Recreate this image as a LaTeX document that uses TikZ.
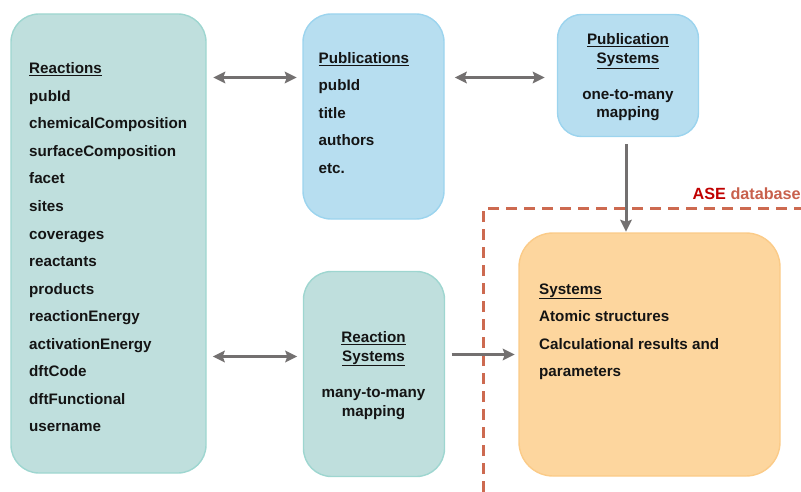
\documentclass[tikz,border=0pt]{standalone}
\usepackage{fontspec}
\setmainfont{Liberation Sans}
\usetikzlibrary{arrows.meta}

\definecolor{tealfill}{RGB}{191,223,221}
\definecolor{tealline}{RGB}{158,214,208}
\definecolor{bluefill}{RGB}{183,222,240}
\definecolor{blueline}{RGB}{156,212,238}
\definecolor{orangefill}{RGB}{253,214,158}
\definecolor{orangeline}{RGB}{251,203,136}
\definecolor{arrowgray}{RGB}{115,112,112}
\definecolor{asedash}{RGB}{205,106,80}
\definecolor{asered}{RGB}{192,0,0}
\definecolor{dbred}{RGB}{200,96,76}
\definecolor{txt}{RGB}{20,20,20}

\begin{document}
\begin{tikzpicture}[x=1pt, y=-1pt, >={Stealth[length=12pt,width=11.5pt,inset=2pt]},
    font=\fontsize{15.2}{18.5}\selectfont\bfseries,
    box/.style={draw, line width=1.4pt, rounded corners=28pt, inner sep=0pt},
    item/.style={anchor=base west, inner sep=0pt, text=txt},
    head/.style={anchor=base, inner sep=0pt, text=txt, align=center},
    link/.style={line width=3pt, draw=arrowgray}]
    \useasboundingbox (0,0) rectangle (801,492);

    % Kasten
    \node[box, fill=tealfill, draw=tealline, minimum width=195pt, minimum height=459pt] (reactions) at (108.5,243.5) {};
    \node[box, fill=bluefill, draw=blueline, minimum width=141pt, minimum height=205pt] (pubs) at (373.5,116.5) {};
    \node[box, fill=bluefill, draw=blueline, minimum width=141pt, minimum height=122pt, rounded corners=24pt] (pubsys) at (628,75.5) {};
    \node[box, fill=tealfill, draw=tealline, minimum width=141pt, minimum height=205pt] (rsys) at (374,374) {};
    \node[box, fill=orangefill, draw=orangeline, minimum width=261pt, minimum height=243pt, rounded corners=34pt] (systems) at (649.5,354.5) {};

    % Reactions
    \node[item] (rtitle) at (29,74) {\underline{Reactions}};
    \foreach \t [count=\i] in {pubId, chemicalComposition, surfaceComposition, facet, sites,
        coverages, reactants, products, reactionEnergy, activationEnergy, dftCode,
        dftFunctional, username} {
        \node[item] (r\i) at (29, 74+27.5*\i) {\t};
    }

    % Publications
    \node[item] (ptitle) at (318.5,63.5) {\underline{Publications}};
    \foreach \t [count=\i] in {pubId, title, authors, etc.} {
        \node[item] (p\i) at (318.5, 63.5+27.5*\i) {\t};
    }

    % Publication Systems, Reaction Systems
    \node[head] (pstitle) at (628,63.5) {\underline{Publication}\\\underline{Systems}};
    \node[head] (psmap) at (628,118) {one-to-many\\mapping};
    \node[head] (rstitle) at (373.5,361) {\underline{Reaction}\\\underline{Systems}};
    \node[head] (rsmap) at (373.5,416) {many-to-many\\mapping};

    % Systems
    \node[item] (stitle) at (539,294) {\underline{Systems}};
    \foreach \t [count=\i] in {Atomic structures, Calculational results and, parameters} {
        \node[item] (s\i) at (539, 294+27.5*\i) {\t};
    }

    % ASE database
    \coordinate (dashbot) at (483.5,492);
    \coordinate (dashtop) at (483.5,208.5);
    \coordinate (dashend) at (801,208.5);
    \draw[draw=asedash, line width=3pt, dash pattern=on 11pt off 7pt] (dashbot) -- (dashtop) -- (dashend);
    \node[anchor=base west, inner sep=0pt, font=\fontsize{16.2}{19}\selectfont\bfseries] (ase) at (692.5,199.5) {\textcolor{asered}{ASE} \textcolor{dbred}{database}};

    % Pfeile
    \coordinate (toprow) at (0,77.5);
    \coordinate (midrow) at (0,356.5);
    \draw[link, <->, shorten <=6.5pt, shorten >=5.5pt] (reactions.east |- toprow) -- (pubs.west |- toprow);
    \draw[link, <->, shorten <=10pt, shorten >=12pt] (pubs.east |- toprow) -- (pubsys.west |- toprow);
    \draw[link, <->, shorten <=6pt, shorten >=5.5pt] (reactions.east |- midrow) -- (rsys.west |- midrow);
    \draw[link, ->, shorten <=6.5pt, shorten >=3.5pt] (rsys.east |- systems.center) -- (systems.west);
    \draw[link, ->, shorten <=7pt, shorten >=0.5pt] ([xshift=-2pt]pubsys.south) -- ([xshift=-2pt]pubsys.south |- systems.north);
\end{tikzpicture}
\end{document}
